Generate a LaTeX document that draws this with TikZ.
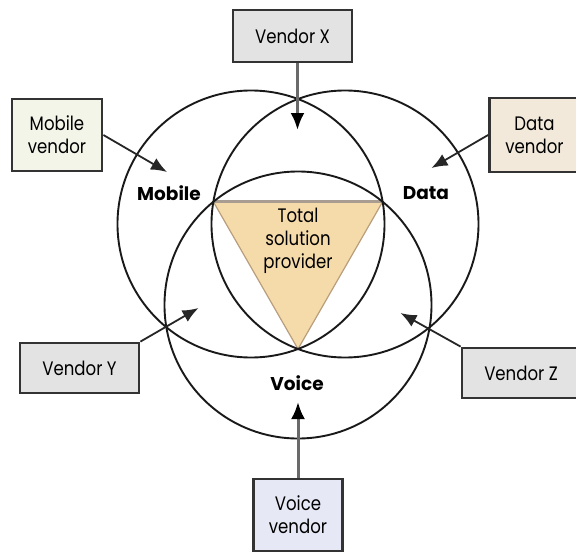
\documentclass[tikz,border=0pt]{standalone}
\usepackage{fontspec}
\setmainfont{Poppins}
\newfontfamily\boxfont{Poppins}[FakeStretch=0.85]
\usetikzlibrary{arrows.meta}
\definecolor{boxgray}{HTML}{E3E3E3}
\definecolor{mobfill}{HTML}{F2F5E8}
\definecolor{datfill}{HTML}{F2E9DA}
\definecolor{voifill}{HTML}{E6E8F5}
\definecolor{boxline}{HTML}{333333}
\definecolor{trifill}{HTML}{F5DAAA}
\definecolor{tritop}{HTML}{A89D90}
\definecolor{triside}{HTML}{B89E7C}
\definecolor{stemgray}{HTML}{6A6A6A}
\tikzset{
  vbox/.style={draw=boxline, line width=2.8pt, align=center, inner sep=0pt,
    font=\boxfont\fontsize{19.5}{23}\selectfont},
  ring/.style={draw=black!90, line width=1.9pt},
  lab/.style={font=\bfseries\fontsize{18.5}{22}\selectfont, inner sep=0pt},
  diag/.style={draw=black!85, line width=1.8pt,
    -{Latex[length=16pt,width=13pt]}},
  stem/.style={draw=stemgray, line width=3pt,
    -{Latex[length=17pt,width=14pt,color=black]}}
}
\begin{document}
\begin{tikzpicture}[x=1pt,y=-1pt]
\useasboundingbox (0,0) rectangle (576,552);
% triangle
\coordinate (tl) at (213.4,201.8);
\coordinate (tr) at (382.6,201.8);
\coordinate (tb) at (298,349);
\fill[trifill] (tl) -- (tr) -- (tb) -- cycle;
\draw[triside, line width=1.2pt] (tr) -- (tb) -- (tl);
\draw[tritop, line width=3.2pt] (tl) -- (tr);
% circles
\draw[ring] (251,224) circle[radius=133.5];
\draw[ring] (345,224) circle[radius=133.5];
\draw[ring] (298,305) circle[radius=133.5];
% labels
\node[lab] (mob) at (169,193) {Mobile};
\node[lab] (dat) at (426,193) {Data};
\node[lab] (voi) at (297,383) {Voice};
\node[align=center, inner sep=0pt, font=\boxfont\fontsize{19.5}{23}\selectfont] (tot) at (298,241) {Total\\solution\\provider};
% boxes
\node[vbox, fill=boxgray, minimum width=119pt, minimum height=52pt] (vx) at (292.5,36) {Vendor X};
\node[vbox, fill=mobfill, minimum width=90pt, minimum height=72pt] (mv) at (57,135) {Mobile\\vendor};
\node[vbox, fill=datfill, minimum width=90pt, minimum height=74pt] (dv) at (534.5,135) {Data\\vendor};
\node[vbox, fill=boxgray, minimum width=119pt, minimum height=50pt] (vy) at (79.5,368) {Vendor Y};
\node[vbox, fill=boxgray, minimum width=118pt, minimum height=50pt] (vz) at (521,373) {Vendor Z};
\node[vbox, fill=voifill, minimum width=89pt, minimum height=72pt] (vv) at (298,515) {Voice\\vendor};
% arrow tips
\coordinate (tX) at (297.5,130);
\coordinate (tM) at (167,172);
\coordinate (tD) at (431.5,168);
\coordinate (tY) at (198.5,308);
\coordinate (tZ) at (400.5,313);
\coordinate (tV) at (298,402);
% connectors
\draw[stem] (vx.south -| tX) -- (tX);
\draw[stem] (vv.north) -- (tV);
\draw[diag] (mv.east) -- (tM);
\draw[diag] (dv.west) -- (tD);
\draw[diag] (vy.north east) -- (tY);
\draw[diag] (vz.north west) -- (tZ);
\end{tikzpicture}
\end{document}
